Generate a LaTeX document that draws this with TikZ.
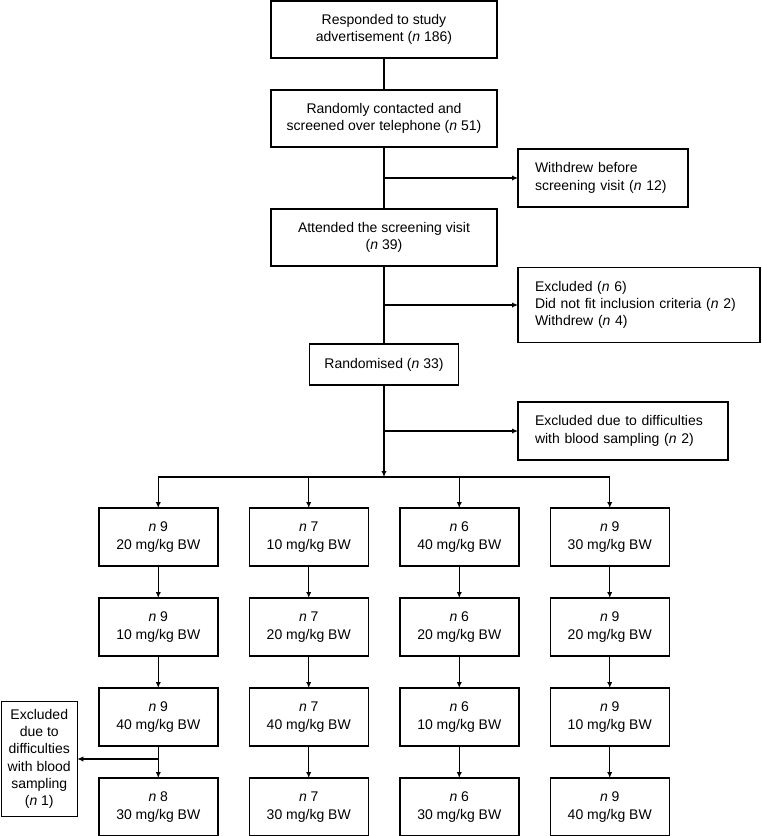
\documentclass[tikz,border=0pt]{standalone}
\usepackage{fontspec}
\setmainfont{Liberation Sans}
\usepackage{tikz}
\usetikzlibrary{arrows.meta,positioning}

\begin{document}
\begin{tikzpicture}[
    x=0.75pt, y=-0.75pt,
    line/.style={line width=1pt, draw=black},
    flow/.style={line, -{Latex[length=4.5pt,width=4pt]}},
    mainbox/.style={draw, line width=1.1pt, outer sep=0pt, align=center, minimum width=169.5pt,
        minimum height=42.75pt, inner sep=2pt, font=\fontsize{10.5}{13}\selectfont},
    sidebox/.style={draw, line width=1.1pt, outer sep=0pt, align=left, anchor=west, inner xsep=12.75pt,
        font=\fontsize{10.5}{13}\selectfont},
    dosebox/.style={draw, line width=1.1pt, outer sep=0pt, align=center, minimum width=89.25pt,
        minimum height=43.5pt, inner sep=2pt, font=\fontsize{10.5}{13}\selectfont}
]
\useasboundingbox (0,0) rectangle (761,836);
% main chain
\node[mainbox] (resp) at (384,29.5) {Responded to study\\advertisement (\textit{n} 186)};
\node[mainbox, below=24pt of resp] (contact) {Randomly contacted and\\screened over telephone (\textit{n} 51)};
\node[mainbox, below=46.5pt of contact] (attend) {Attended the screening visit\\(\textit{n} 39)};
\node[mainbox, below=58.5pt of attend, minimum width=111.75pt, minimum height=30.75pt] (rand) {Randomised (\textit{n} 33)};
\coordinate[below=69pt of rand] (split);
% side exits
\coordinate[below=23.25pt of contact] (j1);
\coordinate[below=29.25pt of attend] (j2);
\coordinate[below=34.5pt of rand] (j3);
\node[sidebox, text width=102pt, minimum height=43.5pt, right=100.5pt of j1] (withdrew) {Withdrew before\\screening visit (\textit{n} 12)};
\node[sidebox, text width=156pt, minimum height=56.25pt, right=100.5pt of j2] (excl) {Excluded (\textit{n} 6)\\Did not fit inclusion criteria (\textit{n} 2)\\Withdrew (\textit{n} 4)};
\node[sidebox, text width=132pt, minimum height=43.5pt, right=100.5pt of j3] (blood) {Excluded due to difficulties\\with blood sampling (\textit{n} 2)};
% dose sequences
\node[dosebox, below=23.25pt of split, xshift=-169.3pt] (a1) {\textit{n} 9\\20 mg/kg BW};
\node[dosebox, below=24pt of a1] (a2) {\textit{n} 9\\10 mg/kg BW};
\node[dosebox, below=24pt of a2] (a3) {\textit{n} 9\\40 mg/kg BW};
\node[dosebox, below=24pt of a3] (a4) {\textit{n} 8\\30 mg/kg BW};
\node[dosebox, below=23.25pt of split, xshift=-56.45pt] (b1) {\textit{n} 7\\10 mg/kg BW};
\node[dosebox, below=24pt of b1] (b2) {\textit{n} 7\\20 mg/kg BW};
\node[dosebox, below=24pt of b2] (b3) {\textit{n} 7\\40 mg/kg BW};
\node[dosebox, below=24pt of b3] (b4) {\textit{n} 7\\30 mg/kg BW};
\node[dosebox, below=23.25pt of split, xshift=56.45pt] (c1) {\textit{n} 6\\40 mg/kg BW};
\node[dosebox, below=24pt of c1] (c2) {\textit{n} 6\\20 mg/kg BW};
\node[dosebox, below=24pt of c2] (c3) {\textit{n} 6\\10 mg/kg BW};
\node[dosebox, below=24pt of c3] (c4) {\textit{n} 6\\30 mg/kg BW};
\node[dosebox, below=23.25pt of split, xshift=169.3pt] (d1) {\textit{n} 9\\30 mg/kg BW};
\node[dosebox, below=24pt of d1] (d2) {\textit{n} 9\\20 mg/kg BW};
\node[dosebox, below=24pt of d2] (d3) {\textit{n} 9\\10 mg/kg BW};
\node[dosebox, below=24pt of d3] (d4) {\textit{n} 9\\40 mg/kg BW};
\coordinate[below=9.75pt of a3] (j4);
\node[draw, line width=1.1pt, outer sep=0pt, align=center, anchor=east, minimum width=57pt, minimum height=86.25pt,
    inner sep=1pt, font=\fontsize{10.5}{13}\selectfont, left=60.75pt of j4] (dropout)
    {Excluded\\due to\\difficulties\\with blood\\sampling\\(\textit{n} 1)};
% connectors
\draw[line] (resp) -- (contact);
\draw[line] (contact) -- (attend);
\draw[line] (attend) -- (rand);
\draw[flow] (rand) -- (split);
\draw[flow] (j1) -- (withdrew);
\draw[flow] (j2) -- (excl);
\draw[flow] (j3) -- (blood);
\draw[line] (a1 |- split) -- (d1 |- split);
\draw[flow] (a1 |- split) -- (a1);
\draw[flow] (b1 |- split) -- (b1);
\draw[flow] (c1 |- split) -- (c1);
\draw[flow] (d1 |- split) -- (d1);
\draw[flow] (a1) -- (a2);
\draw[flow] (a2) -- (a3);
\draw[flow] (a3) -- (a4);
\draw[flow] (b1) -- (b2);
\draw[flow] (b2) -- (b3);
\draw[flow] (b3) -- (b4);
\draw[flow] (c1) -- (c2);
\draw[flow] (c2) -- (c3);
\draw[flow] (c3) -- (c4);
\draw[flow] (d1) -- (d2);
\draw[flow] (d2) -- (d3);
\draw[flow] (d3) -- (d4);
\draw[flow] (j4) -- (dropout);
\end{tikzpicture}
\end{document}
